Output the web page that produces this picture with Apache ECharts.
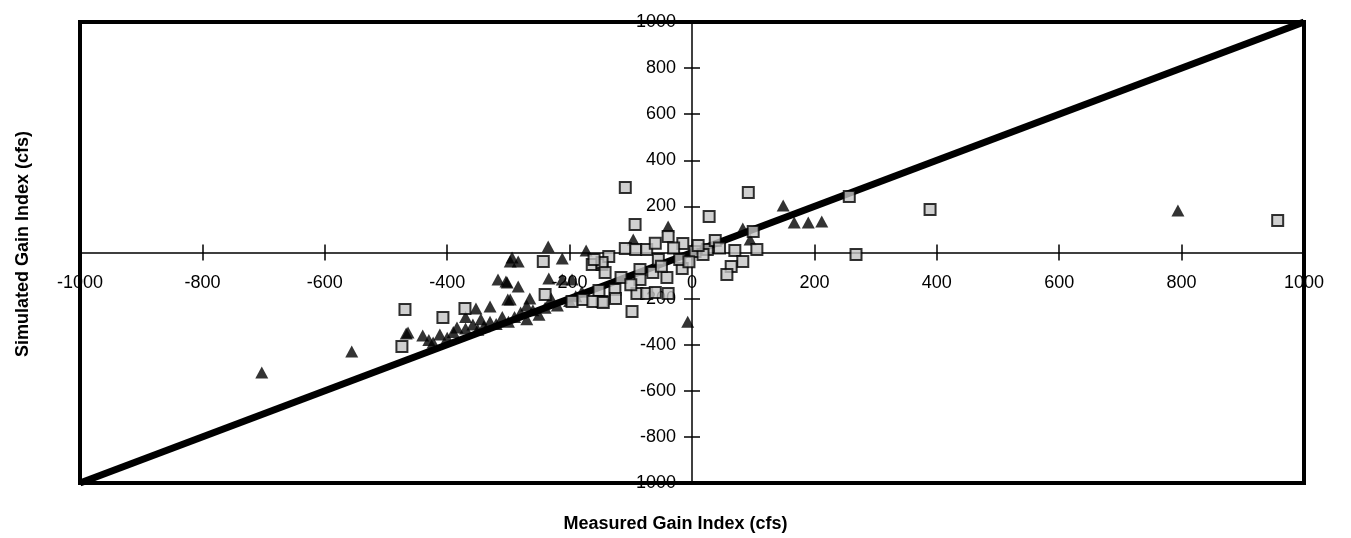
<!DOCTYPE html>
<html>
<head>
<meta charset="utf-8">
<script src="https://cdn.jsdelivr.net/npm/echarts@6/dist/echarts.min.js"></script>
<style>
  html, body { margin: 0; padding: 0; background: #fff; }
  #chart { width: 1351px; height: 538px; }
</style>
</head>
<body>
<div id="chart"></div>
<script>
// measured vs simulated gain index
var triangles = [
  [-703,-521], [-556,-430], [-467,-351], [-464,-347], [-423,-390], [-412,-356],
  [-440,-360], [-430,-380], [-400,-370], [-390,-345], [-384,-325], [-370,-330],
  [-358,-312], [-350,-335], [-340,-320], [-353,-243], [-330,-234], [-330,-300],
  [-320,-310], [-317,-117], [-304,-126], [-297,-39], [-301,-204], [-310,-280],
  [-300,-300], [-294,-22], [-284,-39], [-302,-130], [-284,-147], [-297,-204],
  [-290,-280], [-280,-260], [-270,-290], [-260,-250], [-250,-270], [-240,-240],
  [-370,-280], [-345,-290], [-270,-230], [-265,-200], [-235,26], [-234,-113],
  [-212,-26], [-212,-117], [-196,-117], [-173,9], [-230,-200], [-220,-230],
  [-200,-210], [-190,-190], [-180,-170], [-39,113], [-96,56], [-7,-300],
  [83,104], [95,56], [149,204], [167,130], [190,130], [212,135], [794,182]
];
var squares = [
  [957,139], [257,243], [389,187], [268,-9], [92,260], [28,156], [-109,282],
  [-93,121], [-243,-39], [-98,-256], [-469,-247], [-474,-408], [-407,-282],
  [-371,-243], [-163,-52], [-147,-52], [-240,-182], [-196,-213], [-178,-204],
  [-152,-165], [-147,-213], [-162,-213], [-39,69], [-15,39], [5,4], [-109,17],
  [-92,13], [-74,13], [-136,-17], [-147,-43], [-142,-87], [-116,-108],
  [-85,-74], [-64,-87], [-85,-117], [-41,-108], [-16,-69], [-126,-160],
  [-145,-217], [-90,-178], [-74,-178], [-60,-174], [-39,-178], [25,13],
  [38,52], [70,9], [100,91], [106,13], [83,-39], [64,-61], [57,-95], [18,-9],
  [-160,-30], [-55,-30], [-30,20], [-20,-30], [-5,-40], [10,30], [45,20],
  [-60,40], [-125,-200], [-100,-140], [-50,-60]
];
var oneToOne = [[-1000,-1000], [1000,1000]];
var axisMin = -1000, axisMax = 1000, axisStep = 200;

var chart = echarts.init(document.getElementById('chart'));
var font = 'Liberation Sans, Arial, sans-serif';
var W = 1351, H = 538;
var gridBox = { left: 80, right: 47, top: 22, bottom: 55 };
var plotW = W - gridBox.left - gridBox.right;
var plotH = H - gridBox.top - gridBox.bottom;

// grid 0 holds the data (its axes hidden), grid 1 draws the zero lines, outward
// ticks and labels, grid 2 adds the inward half of the ticks.
// the crossing axes are pushed to the middle with offset (the range is symmetric)
function makeAxis(dim, gridIndex, mode, labelMargin, hideZero) {
  var shift = mode === 'hidden' ? 0 : -(dim === 'x' ? plotH : plotW) / 2;
  return {
    type: 'value',
    gridIndex: gridIndex,
    position: dim === 'x' ? 'bottom' : 'left',
    offset: shift,
    z: 0,
    min: axisMin, max: axisMax, interval: axisStep,
    splitLine: { show: false },
    axisLine: { show: mode === 'main', onZero: false, lineStyle: { color: '#000', width: 1.5 } },
    axisTick: { show: mode !== 'hidden', inside: mode === 'inner', length: 8,
                lineStyle: { color: '#000', width: 1.5 } },
    axisLabel: {
      show: mode === 'main', margin: labelMargin, fontFamily: font, fontSize: 18, color: '#000',
      formatter: function (v) { return (hideZero && v === 0) ? '' : String(v); }
    }
  };
}

chart.setOption({
  animation: false,
  grid: [
    Object.assign({ show: true, borderColor: '#000', borderWidth: 4, backgroundColor: '#fff', z: -1 }, gridBox),
    Object.assign({ show: false }, gridBox),
    Object.assign({ show: false }, gridBox)
  ],
  xAxis: [
    makeAxis('x', 0, 'hidden', 22, false),
    makeAxis('x', 1, 'main', 22, false),
    makeAxis('x', 2, 'inner', 22, false)
  ],
  yAxis: [
    makeAxis('y', 0, 'hidden', 16, true),
    makeAxis('y', 1, 'main', 16, true),
    makeAxis('y', 2, 'inner', 16, true)
  ],
  graphic: [
    {
      type: 'text', left: 'center', top: 515,
      style: { text: 'Measured Gain Index (cfs)', font: 'bold 18px ' + font, fill: '#000' }
    },
    {
      type: 'text', x: 23, y: 244, rotation: Math.PI / 2,
      style: { text: 'Simulated Gain Index (cfs)', font: 'bold 18px ' + font, fill: '#000',
               align: 'center', verticalAlign: 'middle' }
    }
  ],
  series: [
    {
      type: 'line', data: oneToOne, symbol: 'none', silent: true, z: 5,
      lineStyle: { color: '#000', width: 7 }
    },
    {
      type: 'scatter', data: triangles, symbol: 'triangle', symbolSize: [13, 12], z: 6,
      itemStyle: { color: '#000' }
    },
    {
      type: 'scatter', data: squares, symbol: 'rect', symbolSize: 11, z: 7,
      itemStyle: { color: '#c4c4c4', borderColor: '#000', borderWidth: 2 }
    }
  ]
});
</script>
</body>
</html>
